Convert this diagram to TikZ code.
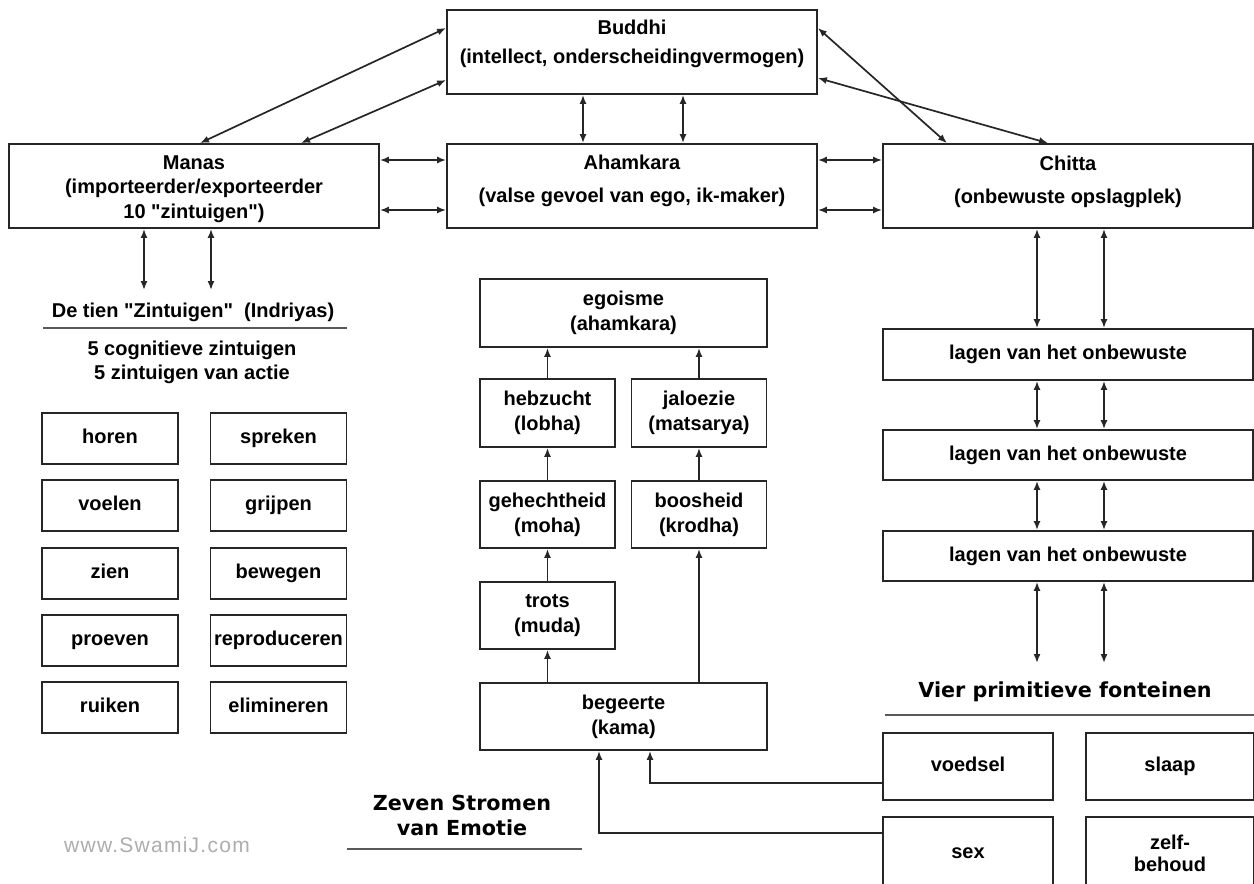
\documentclass[tikz,border=0pt]{standalone}
\usepackage{fontspec}
\setmainfont{Liberation Sans}[Ligatures=TeXOff]
\newfontfamily\vfont{DejaVu Sans}[Ligatures=TeXOff]
\newfontfamily\wmfont{Liberation Sans}[LetterSpace=6]
\usetikzlibrary{arrows.meta,calc}
\begin{document}
\begin{tikzpicture}[x=1pt,y=-1pt,
  box/.style={draw=black!85, line width=1.8pt, inner sep=0pt, align=center,
    font=\bfseries\fontsize{20}{25}\selectfont},
  one/.style={text height=14pt, text depth=4pt},
  bigbox/.style={box, minimum width=370pt, minimum height=84pt},
  sbox/.style={box, one, minimum width=136pt, minimum height=51pt},
  mbox/.style={box, minimum width=135pt, minimum height=67pt},
  wbox/.style={box, minimum width=287pt, minimum height=67pt},
  lbox/.style={box, one, minimum width=370pt, minimum height=50pt},
  fbox/.style={box, minimum width=169pt, minimum height=67pt},
  txt/.style={inner sep=0pt, align=center, font=\bfseries\fontsize{20}{25}\selectfont},
  vtxt/.style={inner sep=0pt, align=center, font=\vfont\bfseries\fontsize{20.7}{25}\selectfont},
  conn/.style={line width=1.7pt, draw=black!85},
  dbl/.style={conn, {Latex[length=9pt,width=7pt]}-{Latex[length=9pt,width=7pt]}},
  arrowup/.style={conn, -{Latex[length=9pt,width=7pt]}},
  rule/.style={line width=2.2pt, draw=black!65}
]
\useasboundingbox (0,0) rectangle (1254,884);
\clip (0,0) rectangle (1254,884);
\fill[white] (0,0) rectangle (1254,884);

% top row
\node[bigbox] (buddhi) at (632,52) {};
\node[txt, font=\bfseries\fontsize{20}{29}\selectfont] (buddhiT) at (632,44) {Buddhi\\(intellect, onderscheidingvermogen)};
\node[bigbox] (manas) at (194,186) {};
\node[txt, font=\bfseries\fontsize{20}{24.5}\selectfont] (manasT) at (194,189) {Manas\\(importeerder/exporteerder\\10 "zintuigen")};
\node[bigbox] (ahamkara) at (632,186) {};
\node[txt, font=\bfseries\fontsize{20}{33}\selectfont] (ahamkaraT) at (632,181) {Ahamkara\\(valse gevoel van ego, ik-maker)};
\node[bigbox] (chitta) at (1068,186) {};
\node[txt, font=\bfseries\fontsize{20}{33}\selectfont] (chittaT) at (1068,182) {Chitta\\(onbewuste opslagplek)};

\draw[dbl] ([xshift=6pt]manas.north) -- ([yshift=24pt]buddhi.west);
\draw[dbl] ([xshift=107pt]manas.north) -- ([yshift=-28pt]buddhi.west);
\draw[dbl] ([yshift=24pt]buddhi.east) -- ([xshift=-121pt]chitta.north);
\draw[dbl] ([yshift=-26pt]buddhi.east) -- ([xshift=-20pt]chitta.north);
\draw[dbl] ([xshift=-49pt]buddhi.south) -- ([xshift=-49pt]ahamkara.north);
\draw[dbl] ([xshift=51pt]buddhi.south) -- ([xshift=51pt]ahamkara.north);
\draw[dbl] ([yshift=26pt]manas.east) -- ([yshift=26pt]ahamkara.west);
\draw[dbl] ([yshift=-24pt]manas.east) -- ([yshift=-24pt]ahamkara.west);
\draw[dbl] ([yshift=26pt]ahamkara.east) -- ([yshift=26pt]chitta.west);
\draw[dbl] ([yshift=-24pt]ahamkara.east) -- ([yshift=-24pt]chitta.west);

% left column: Indriyas
\coordinate (d1) at (144,290);
\coordinate (d2) at (211,290);
\draw[dbl] ([xshift=-50pt]manas.south) -- (d1);
\draw[dbl] ([xshift=17pt]manas.south) -- (d2);
\node[txt] (tien) at (193,312) {De tien "Zintuigen"\ \ (Indriyas)};
\draw[rule] (43,328) -- (347,328);
\node[txt, font=\bfseries\fontsize{20}{24}\selectfont] (cog) at (192,362) {5 cognitieve zintuigen\\5 zintuigen van actie};

\node[sbox] (horen) at (110,438.5) {horen};
\node[sbox] (voelen) at (110,505.5) {voelen};
\node[sbox] (zien) at (110,573.5) {zien};
\node[sbox] (proeven) at (110,640.5) {proeven};
\node[sbox] (ruiken) at (110,707.5) {ruiken};
\node[sbox] (spreken) at (278.5,438.5) {spreken};
\node[sbox] (grijpen) at (278.5,505.5) {grijpen};
\node[sbox] (bewegen) at (278.5,573.5) {bewegen};
\node[sbox] (reproduceren) at (278.5,640.5) {reproduceren};
\node[sbox] (elimineren) at (278.5,707.5) {elimineren};

\node[font=\wmfont\fontsize{21}{21}\selectfont, text=black!32, inner sep=0pt] (wm) at (157,845) {www.SwamiJ.com};

% middle column: emotions
\node[wbox, minimum height=68pt] (egoisme) at (623.5,313) {egoisme\\(ahamkara)};
\node[mbox, minimum height=68pt] (hebzucht) at (547.5,413) {hebzucht\\(lobha)};
\node[mbox, minimum height=68pt] (jaloezie) at (699,413) {jaloezie\\(matsarya)};
\node[mbox] (gehecht) at (547.5,514.5) {gehechtheid\\(moha)};
\node[mbox] (boosheid) at (699,514.5) {boosheid\\(krodha)};
\node[mbox] (trots) at (547.5,615.5) {trots\\(muda)};
\node[wbox] (begeerte) at (623.5,716.5) {begeerte\\(kama)};

\draw[arrowup] (begeerte.north -| trots.south) -- (trots.south);
\draw[arrowup] (trots.north) -- (gehecht.south);
\draw[arrowup] (gehecht.north) -- (hebzucht.south);
\draw[arrowup] (hebzucht.north) -- (hebzucht.north |- egoisme.south);
\draw[arrowup] (begeerte.north -| boosheid.south) -- (boosheid.south);
\draw[arrowup] (boosheid.north) -- (jaloezie.south);
\draw[arrowup] (jaloezie.north) -- (jaloezie.north |- egoisme.south);

\node[vtxt] (zeven) at (462,815) {Zeven Stromen\\van Emotie};
\draw[rule] (347,849) -- (582,849);

% right column: unconscious
\node[lbox, minimum height=51pt] (lagen1) at (1068,354.5) {lagen van het onbewuste};
\node[lbox] (lagen2) at (1068,455) {lagen van het onbewuste};
\node[lbox] (lagen3) at (1068,556) {lagen van het onbewuste};
\draw[dbl] ([xshift=-31pt]chitta.south) -- ([xshift=-31pt]lagen1.north);
\draw[dbl] ([xshift=36pt]chitta.south) -- ([xshift=36pt]lagen1.north);
\draw[dbl] ([xshift=-31pt]lagen1.south) -- ([xshift=-31pt]lagen2.north);
\draw[dbl] ([xshift=36pt]lagen1.south) -- ([xshift=36pt]lagen2.north);
\draw[dbl] ([xshift=-31pt]lagen2.south) -- ([xshift=-31pt]lagen3.north);
\draw[dbl] ([xshift=36pt]lagen2.south) -- ([xshift=36pt]lagen3.north);
\coordinate (f1) at (1037,663);
\coordinate (f2) at (1104,663);
\draw[dbl] ([xshift=-31pt]lagen3.south) -- (f1);
\draw[dbl] ([xshift=36pt]lagen3.south) -- (f2);

\node[vtxt] (vier) at (1065,692) {Vier primitieve fonteinen};
\draw[rule] (885,715) -- (1256,715);

\node[fbox, one, minimum width=170pt] (voedsel) at (968,766.5) {voedsel};
\node[fbox, one, minimum width=168pt] (slaap) at (1170,766.5) {slaap};
\node[fbox, one, minimum width=170pt, minimum height=72pt] (sex) at (968,853) {sex};
\node[fbox, minimum width=168pt, minimum height=72pt, font=\bfseries\fontsize{20}{22}\selectfont] (zelf) at (1170,853) {zelf-\\behoud};

\draw[arrowup] ([yshift=-16.5pt]voedsel.west) -| ([xshift=26.5pt]begeerte.south);
\draw[arrowup] ([yshift=20pt]sex.west) -| ([xshift=-24.5pt]begeerte.south);
\end{tikzpicture}
\end{document}
